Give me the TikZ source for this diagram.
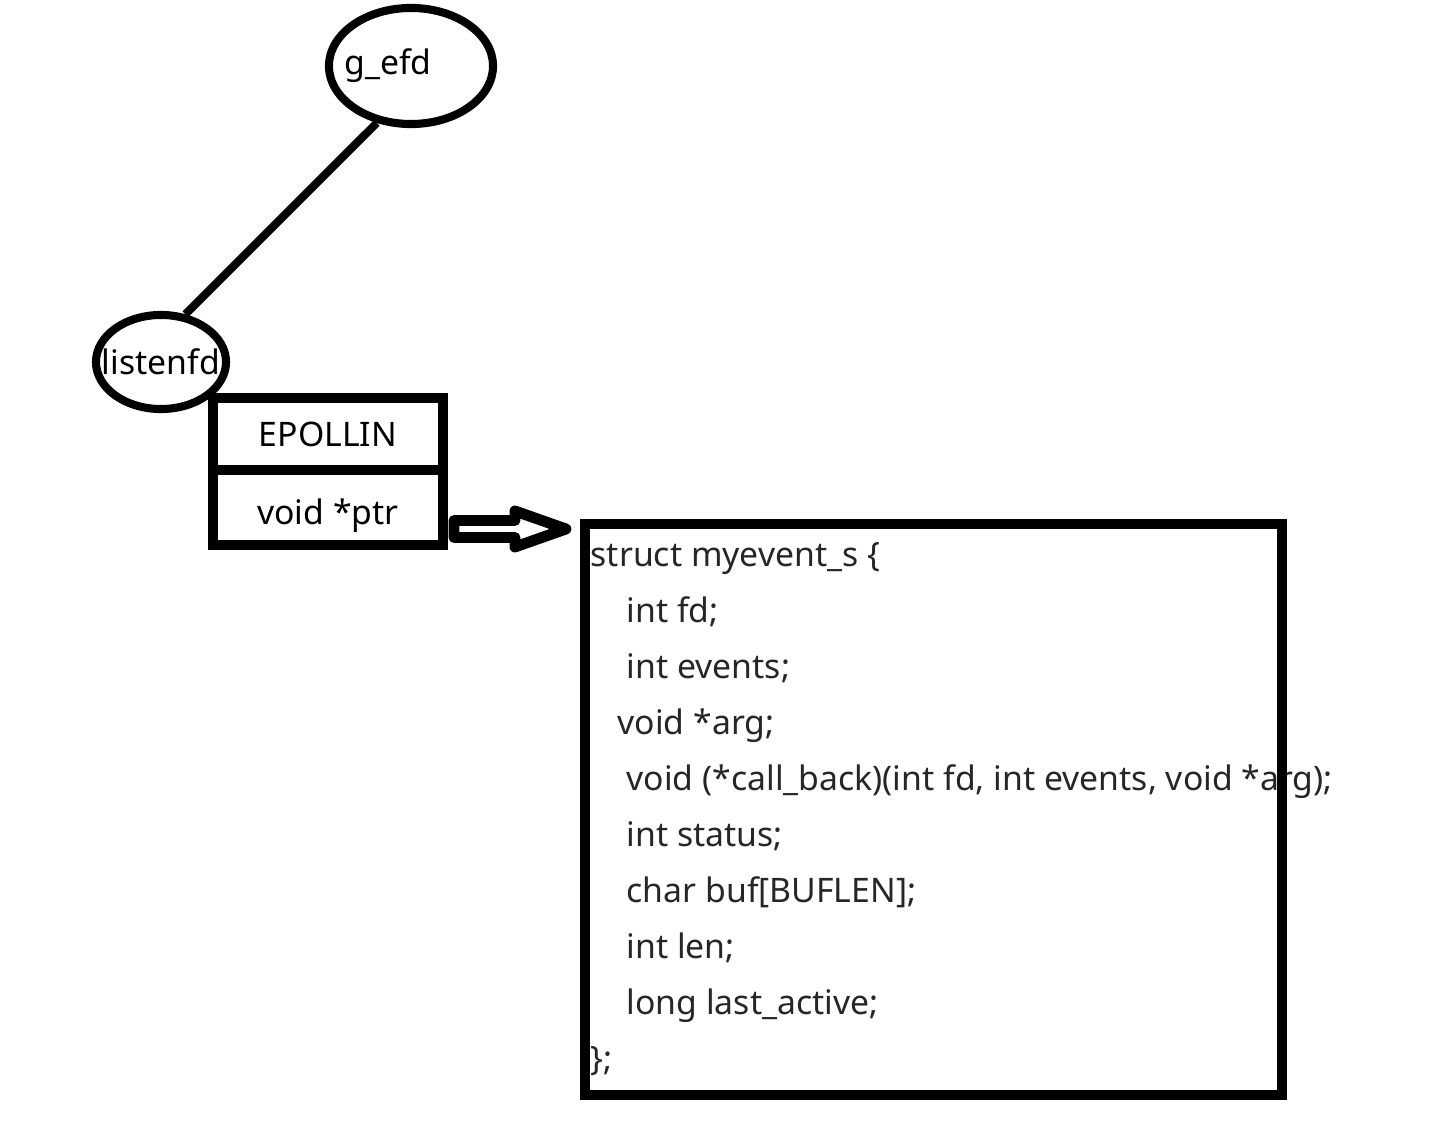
\documentclass[tikz,border=0pt]{standalone}
\usepackage{fontspec}
\setmainfont{Noto Sans}
\usetikzlibrary{shapes.geometric,positioning,calc}

\tikzset{
  bubble/.style={draw,ellipse,line width=2.3pt,inner sep=0pt},
  cell/.style={draw,rectangle,line width=2.85pt,minimum width=2.30cm,outer sep=0pt,inner sep=0pt},
  code/.style={anchor=base west,inner sep=0pt,text=black!85},
  fatarrow/.style={draw,line width=3.1pt,fill=white,line join=round}
}

\begin{document}
\begin{tikzpicture}[x=0.01cm,y=-0.01cm,font=\fontsize{9.6}{11.5}\selectfont]
\useasboundingbox (0,0) rectangle (1456,1140);

\node[bubble,minimum width=1.64cm,minimum height=1.16cm] (gefd) at (411,66) {\makebox[0pt]{\hspace{-0.46cm}g\_efd}};
\node[bubble,minimum width=1.30cm,minimum height=0.94cm] (lfd) at (161,362) {\makebox[0pt]{listenfd}};
\draw[line width=2.3pt] (gefd.239) -- (lfd.63);

\node[cell,minimum height=0.72cm] (epollin) at (328,434) {EPOLLIN};
\node[cell,minimum height=0.75cm,text height=0.41cm,text depth=0.07cm,below=0cm of epollin] (ptr) {void *ptr};

\foreach \i/\xx/\txt in {0/590/{struct myevent\_s \{},1/626/{int fd;},2/626/{int events;},
  3/617/{void *arg;},4/626/{void (*call\_back)(int fd, int events, void *arg);},
  5/626/{int status;},6/626/{char buf[BUFLEN];},7/626/{int len;},
  8/626/{long last\_active;},9/590/{\};}}
  \node[code] (line\i) at (\xx,{567+56*\i}) {\txt};

\node[draw,line width=2.85pt,minimum width=6.97cm,minimum height=5.71cm,inner sep=0pt] (myevent) at (933.5,809.5) {};

\coordinate (tail) at (454,529);
\coordinate (tip) at (566,529);
\draw[fatarrow] ($(tail)+(0,-8.5)$) -- ++(61,0) -- ++(0,-9.5) -- (tip) -- ++(-51,18) -- ++(0,-9.5) -- ++(-61,0) -- cycle;

\end{tikzpicture}
\end{document}
